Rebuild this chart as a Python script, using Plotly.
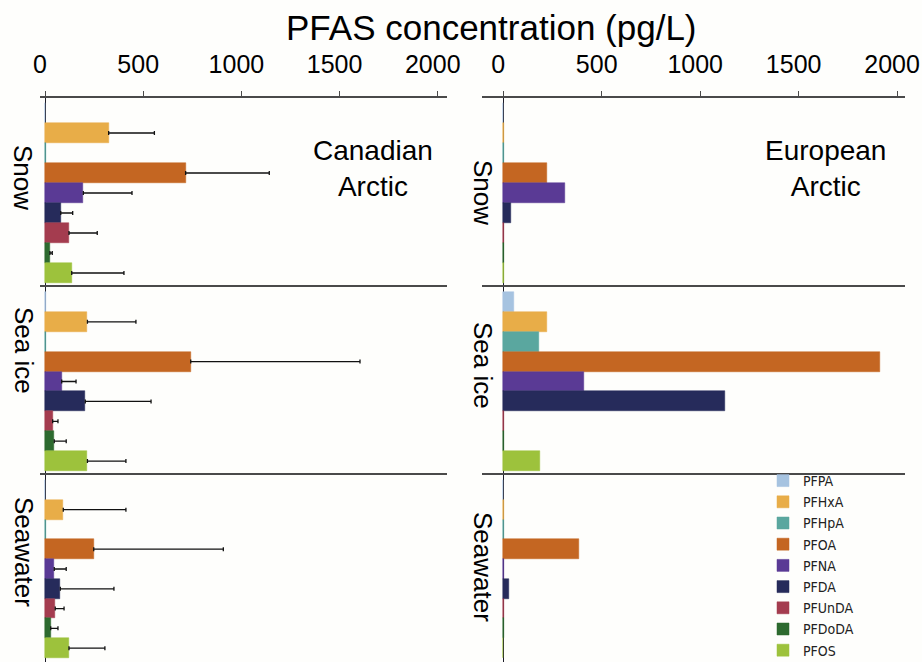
import plotly.graph_objects as go
from plotly.subplots import make_subplots

compounds = ["PFPA", "PFHxA", "PFHpA", "PFOA", "PFNA", "PFDA", "PFUnDA", "PFDoDA", "PFOS"]
colors = ["#a6c3e0", "#e8ad48", "#5aa79f", "#c46622", "#5a3a95", "#262b5b",
          "#a43c4f", "#2d6a2f", "#9dc23c"]
media = ["Snow", "Sea ice", "Seawater"]

# Canadian Arctic means and upper error (pg/L)
can_snow = [2, 324, 5, 716, 195, 80, 122, 25, 136]
can_snow_err = [None, 233, None, 426, 248, 61, 144, 12, 266]
can_ice = [3, 216, 5, 742, 85, 205, 39, 47, 216]
can_ice_err = [None, 247, None, 862, 73, 335, 27, 61, 196]
can_sea = [0, 93, 3, 248, 47, 78, 52, 29, 122]
can_sea_err = [None, 319, None, 660, 61, 273, 45, 37, 183]

# European Arctic means (pg/L)
eur_snow = [0, 3, 3, 224, 315, 41, 3, 2, 3]
eur_ice = [56, 224, 183, 1912, 412, 1127, 2, 2, 187]
eur_sea = [0, 2, 2, 385, 3, 31, 2, 2, 0]

x_ticks = [0, 500, 1000, 1500, 2000]

panels = [
    (1, 1, can_snow, can_snow_err), (1, 2, eur_snow, None),
    (2, 1, can_ice, can_ice_err), (2, 2, eur_ice, None),
    (3, 1, can_sea, can_sea_err), (3, 2, eur_sea, None),
]

fig = make_subplots(rows=3, cols=2)
font = "Liberation Sans"

for row, col, vals, errs in panels:
    for i, name in enumerate(compounds):
        err = None
        if errs is not None and errs[i] is not None:
            err = dict(type="data", symmetric=False, array=[errs[i]], arrayminus=[0],
                       color="#111111", thickness=1.3, width=2)
        fig.add_trace(go.Bar(
            x=[vals[i]], y=[name], orientation="h", name=name,
            marker=dict(color=colors[i], line=dict(color=colors[i], width=0.5)),
            width=1, error_x=err,
            showlegend=(row == 1 and col == 1),
        ), row=row, col=col)

row_dom = {1: [1 - 287 / 662, 1 - 98 / 662], 2: [1 - 475 / 662, 1 - 287 / 662],
           3: [0, 1 - 475 / 662]}
col_dom = {1: [40 / 922, 447 / 922], 2: [482 / 922, 905 / 922]}
col_rng = {1: [-25.5, 2047], 2: [-108, 2040]}

for row in (1, 2, 3):
    for col in (1, 2):
        fig.update_xaxes(
            domain=col_dom[col], range=col_rng[col], side="top",
            showline=True, linecolor="#4a4a4a", linewidth=1.5,
            showgrid=False, zeroline=True, zerolinecolor="#1c1c28", zerolinewidth=1.3,
            tickvals=x_ticks if row == 1 else [],
            ticks="outside" if row == 1 else "", ticklen=5, tickcolor="#4a4a4a",
            showticklabels=(row == 1), ticklabelstandoff=8, ticklabelshift=-5,
            ticklabeloverflow="allow",
            tickfont=dict(size=25, color="black", family=font),
            fixedrange=True, row=row, col=col)
        fig.update_yaxes(
            domain=row_dom[row], type="category", categoryarray=compounds,
            range=[8.7, -0.75], showticklabels=False, showgrid=False,
            showline=False, zeroline=False, ticks="", fixedrange=True,
            row=row, col=col)

annotations = [
    dict(text="PFAS concentration (pg/L)", x=491 / 922, y=1 - 27 / 662,
         font=dict(size=35)),
    dict(text="Canadian<br>Arctic", x=373 / 922, y=1 - 168 / 662, font=dict(size=28)),
    dict(text="European<br>Arctic", x=825 / 922, y=1 - 168 / 662, font=dict(size=28)),
]
row_labels = [(23, 177), (24, 350), (24, 552)]
row_labels_r = [(483, 192), (483, 365), (483, 567)]
for name, (lx, ly), (rx, ry) in zip(media, row_labels, row_labels_r):
    annotations.append(dict(text=name, x=lx / 922, y=1 - ly / 662, textangle=90,
                            font=dict(size=26)))
    annotations.append(dict(text=name, x=rx / 922, y=1 - ry / 662, textangle=90,
                            font=dict(size=26)))
for a in annotations:
    a.update(xref="paper", yref="paper", showarrow=False,
             xanchor="center", yanchor="middle")
    a["font"].update(color="black", family=font)

fig.update_layout(
    width=922, height=662,
    margin=dict(l=0, r=0, t=0, b=0, autoexpand=False),
    paper_bgcolor="#fefefc", plot_bgcolor="#fefefc",
    barmode="overlay", bargap=0,
    annotations=annotations,
    legend=dict(x=763 / 922, y=1 - 465 / 662, xanchor="left", yanchor="top",
                traceorder="normal", bgcolor="rgba(0,0,0,0)",
                font=dict(size=14, color="#222222", family="DejaVu Sans Condensed"),
                itemwidth=30),
)

# drop the page's default body margin so the figure sits at the window corner
fig.write_html("out.html", config={"displayModeBar": False},
               post_script="document.body.style.margin = '0';")
